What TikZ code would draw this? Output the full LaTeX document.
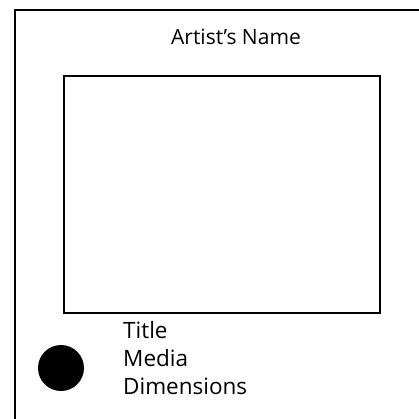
\documentclass[tikz,border=0pt]{standalone}
\usepackage{fontspec}
\setmainfont{Open Sans}
\begin{document}
\begin{tikzpicture}[x=1pt,y=1pt,
  frame/.style={draw=black,line width=2pt},
  lbl/.style={inner sep=0pt,font=\fontsize{22.5}{26}\selectfont}]
\useasboundingbox (0,0) rectangle (419,-419);
\clip (0,0) rectangle (419,-419);
\fill[white] (0,0) rectangle (419,-419);
\draw[frame] (15,-10) rectangle (440,-440);
\node[frame,inner sep=0pt,minimum width=316pt,minimum height=237pt,anchor=north west] (art) at (63,-75) {};
\node[lbl,anchor=base,font=\fontsize{21}{25}\selectfont] (artist) at (236,-45) {Artist’s Name};
\node[lbl,anchor=base west] (title) at (123,-338) {Title};
\node[lbl,anchor=base west] (media) at (123,-366) {Media};
\node[lbl,anchor=base west] (dim) at (123,-394) {Dimensions};
\fill (61,-368) circle (23);
\end{tikzpicture}
\end{document}
